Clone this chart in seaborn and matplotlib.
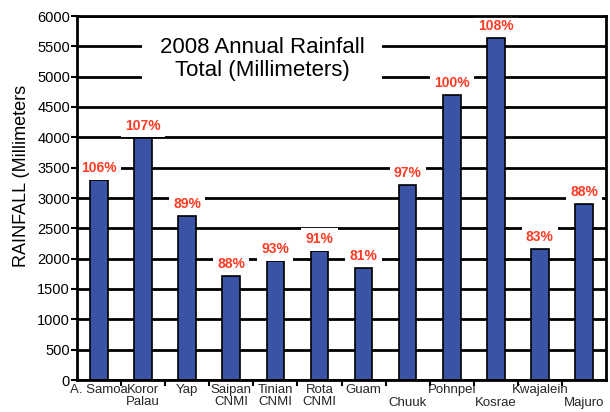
import pandas as pd
import seaborn as sns
import matplotlib.pyplot as plt
from matplotlib.ticker import MultipleLocator, FixedLocator

# данные
stations = ['A. Samoa', 'Koror\nPalau', 'Yap', 'Saipan\nCNMI', 'Tinian\nCNMI', 'Rota\nCNMI',
            'Guam', 'Chuuk', 'Pohnpei', 'Kosrae', 'Kwajalein', 'Majuro']
lowered = ['Chuuk', 'Kosrae', 'Majuro']  # подписи, сдвинутые на строку ниже
rainfall = [3290, 3990, 2710, 1710, 1955, 2120, 1850, 3220, 4695, 5640, 2160, 2905]
percent = ['106%', '107%', '89%', '88%', '93%', '91%', '81%', '97%', '100%', '108%', '83%', '88%']
ylabel = 'RAINFALL (Millimeters'
title = '2008 Annual Rainfall\nTotal (Millimeters)'

sns.set_theme(style='white')
plt.rcParams['font.family'] = ['Liberation Sans', 'DejaVu Sans']

df = pd.DataFrame({'Station': stations, 'Rainfall': rainfall})

fig = plt.figure(figsize=(6.1, 4.12), dpi=100)
ax = fig.add_axes([77 / 610, 32 / 412, 529 / 610, 364 / 412])

sns.barplot(data=df, x='Station', y='Rainfall', width=0.4, color='#3a53a4',
            saturation=1, edgecolor='black', linewidth=1.2, ax=ax)

ax.set_ylim(0, 6000)
ax.set_xlim(-0.5, 11.5)
ax.yaxis.set_major_locator(MultipleLocator(500))
ax.set_axisbelow(True)
ax.yaxis.grid(True, color='black', linewidth=2)
ax.xaxis.grid(False)

for s in ax.spines.values():
    s.set_visible(True)
    s.set_color('black')
    s.set_linewidth(2)

ax.tick_params(axis='y', length=4, width=1.5, direction='out', pad=1,
               labelsize=10.5, colors='black', left=True)
ax.tick_params(axis='x', which='major', length=0, pad=3, labelsize=9.5)
ax.xaxis.set_minor_locator(FixedLocator([i + 0.5 for i in range(11)]))
ax.tick_params(axis='x', which='minor', length=4, width=1.5, direction='out',
               bottom=True, color='black')
for lab in ax.get_xticklabels():
    lab.set_linespacing(0.95)
    lab.set_verticalalignment('top')
    if lab.get_text() in lowered:
        lab.set_y(-13 / 364)

ax.set_xlabel('')
ax.set_ylabel(ylabel, fontsize=13, color='black')
ax.yaxis.set_label_coords(-0.088, 0.56)

# подписи процентов над столбиками
for i, (v, p) in enumerate(zip(rainfall, percent)):
    ax.annotate(p, (i, v), xytext=(0, 12), textcoords='offset pixels',
                ha='center', va='center', fontsize=10, fontweight='bold',
                color='#ff3a22', zorder=2,
                bbox=dict(boxstyle='square,pad=0.3', fc='white', ec='none'))

ax.text(3.7, 5290, title, ha='center', va='center', fontsize=16, linespacing=1.15,
        color='black', zorder=2,
        bbox=dict(boxstyle='square,pad=0.8', fc='white', ec='none'))

plt.savefig('out.png', dpi=100)
